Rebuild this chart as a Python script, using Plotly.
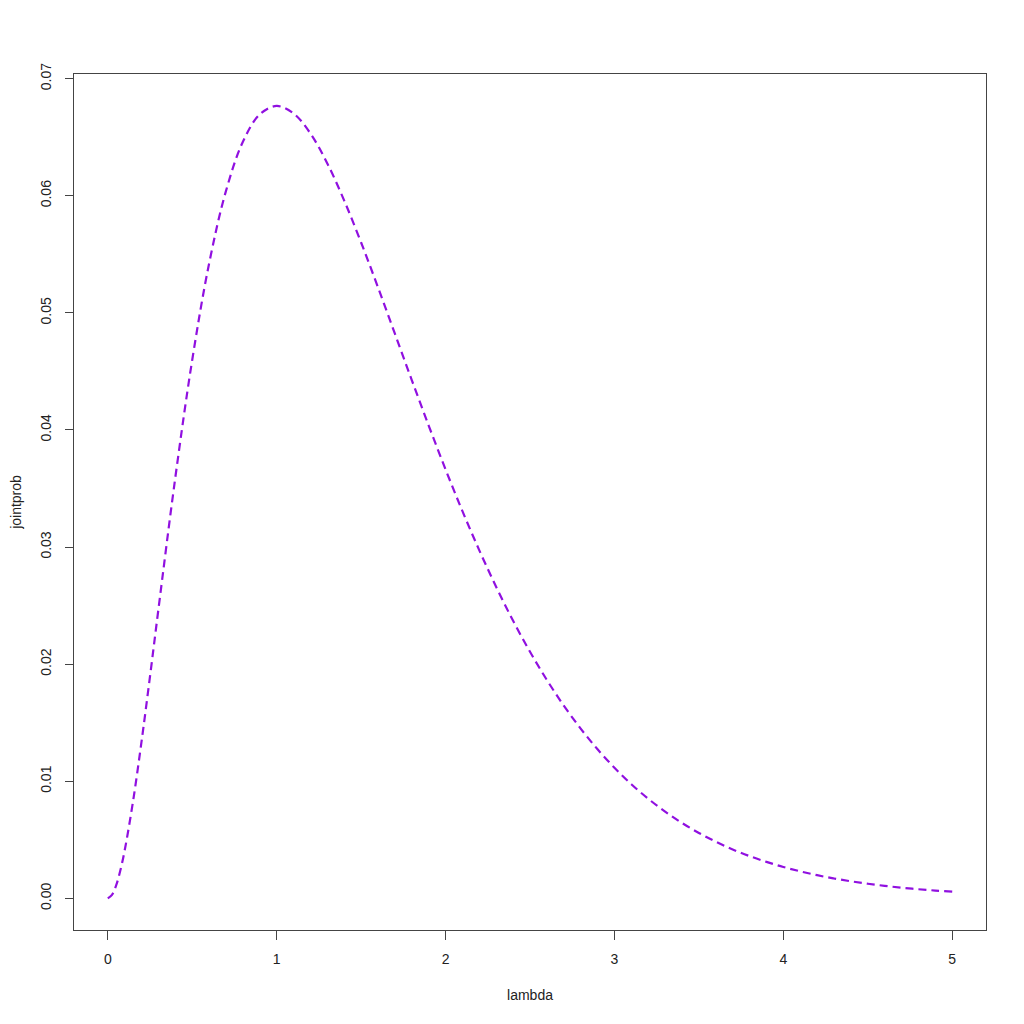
import plotly.graph_objects as go

lam = [0.0, 0.025, 0.05, 0.075, 0.1, 0.15, 0.2, 0.25, 0.3, 0.4, 0.5, 0.6, 0.7, 0.8, 0.9, 1.0,
       1.1, 1.2, 1.3, 1.4, 1.5, 1.6, 1.7, 1.8, 1.9, 2.0, 2.1, 2.2, 2.3, 2.4, 2.5, 2.6, 2.7,
       2.8, 2.9, 3.0, 3.1, 3.2, 3.3, 3.4, 3.5, 3.6, 3.7, 3.8, 3.9, 4.0, 4.1, 4.2, 4.3, 4.4,
       4.5, 4.6, 4.7, 4.8, 4.9, 5.0]
jointprob = [0.0, 0.00030, 0.00113, 0.00242, 0.00409, 0.00833, 0.01341, 0.01895, 0.02470,
             0.03595, 0.04598, 0.05422, 0.06042, 0.06461, 0.06695, 0.06767, 0.06703,
             0.06532, 0.06276, 0.05959, 0.05601, 0.05218, 0.04822, 0.04426, 0.04038,
             0.03663, 0.03307, 0.02972, 0.02659, 0.02370, 0.02106, 0.01865, 0.01646,
             0.01450, 0.01273, 0.01116, 0.00975, 0.00851, 0.00741, 0.00644, 0.00559,
             0.00484, 0.00418, 0.00361, 0.00312, 0.00268, 0.00231, 0.00198, 0.00170,
             0.00146, 0.00125, 0.00107, 0.00091, 0.00078, 0.00067, 0.00057]
x_ticks = [0, 1, 2, 3, 4, 5]
y_ticks = [0.00, 0.01, 0.02, 0.03, 0.04, 0.05, 0.06, 0.07]
y_tick_text = ["0.00", "0.01", "0.02", "0.03", "0.04", "0.05", "0.06", "0.07"]

fig = go.Figure()
fig.add_trace(go.Scatter(
    x=lam, y=jointprob, mode="lines",
    line=dict(color="#9010E0", width=2.2, dash="8px,5px", shape="spline"),
    showlegend=False, hoverinfo="skip"))

font = dict(family="Liberation Sans, Arial, sans-serif", size=14, color="#222222")
fig.update_layout(
    width=1024, height=1024,
    margin=dict(l=66, r=46, t=66, b=102),
    paper_bgcolor="white", plot_bgcolor="white",
    font=font,
    xaxis=dict(range=[-0.2, 5.2], tickvals=x_ticks, ticks="outside", ticklen=9,
               tickcolor="#444444", tickwidth=1, showgrid=False, zeroline=False,
               showline=True, linecolor="#444444", linewidth=1, mirror=True,
               ticklabelstandoff=7, automargin=False,
               tickfont=font, title=dict(text="lambda", font=font, standoff=24)),
    yaxis=dict(range=[-0.0027, 0.0704], tickvals=y_ticks, ticktext=y_tick_text,
               ticks="outside", ticklen=8, tickcolor="#444444", tickwidth=1,
               tickangle=-90, showgrid=False, zeroline=False,
               showline=True, linecolor="#444444", linewidth=1, mirror=True,
               ticklabelstandoff=8, automargin=False,
               tickfont=font, title=dict(text="jointprob", font=font, standoff=16)),
)
fig.write_html("out.html")
